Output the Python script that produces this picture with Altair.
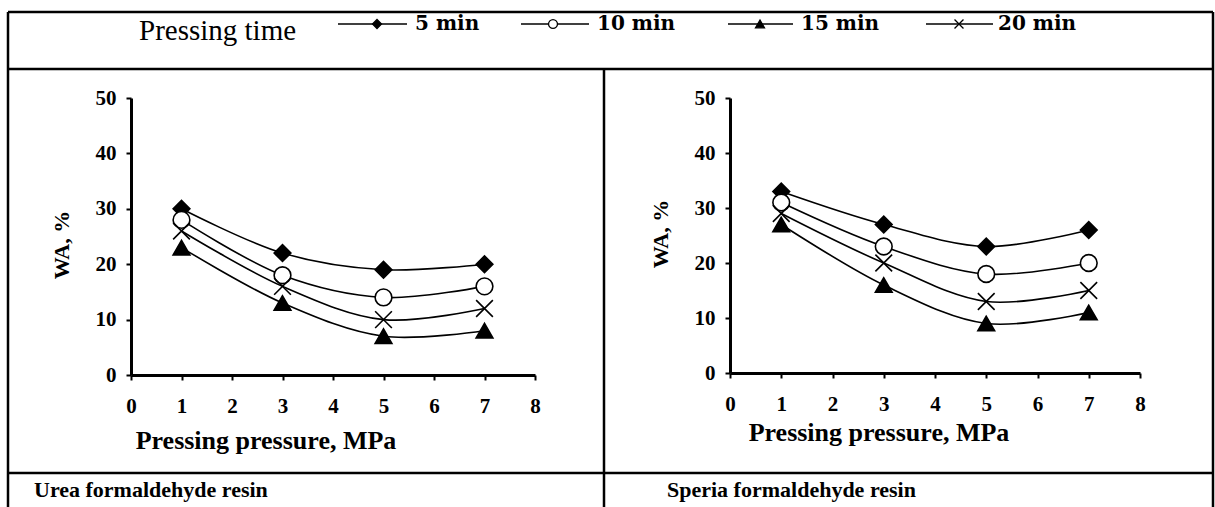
import altair as alt
import pandas as pd

# Pressing pressure (MPa) and water absorption (WA, %) per pressing time
pressure = [1, 3, 5, 7]
times = ["5 min", "10 min", "15 min", "20 min"]

uf_5 = [30, 22, 19, 20]
uf_10 = [28, 18, 14, 16]
uf_15 = [23, 13, 7, 8]
uf_20 = [26, 16, 10, 12]

sf_5 = [33, 27, 23, 26]
sf_10 = [31, 23, 18, 20]
sf_15 = [27, 16, 9, 11]
sf_20 = [29, 20, 13, 15]

x_ticks = [0, 1, 2, 3, 4, 5, 6, 7, 8]
y_ticks = [0, 10, 20, 30, 40, 50]


def long_table(series):
    rows = []
    for t, vals in zip(times, series):
        for p, v in zip(pressure, vals):
            rows.append({"pressure": p, "wa": v, "time": t})
    return pd.DataFrame(rows)


uf = long_table([uf_5, uf_10, uf_15, uf_20])
sf = long_table([sf_5, sf_10, sf_15, sf_20])

W, H = 1215, 507
SERIF = "'Liberation Serif', 'Times New Roman', Times, serif"
WIDE_SERIF = "'DejaVu Serif', serif"
X_PATH = "M-1,-1L1,1M-1,1L1,-1"

shape_scale = alt.Scale(domain=times, range=["diamond", "circle", "triangle-up", X_PATH])
fill_scale = alt.Scale(domain=times, range=["black", "white", "black", "transparent"])


def panel(df, x_range, y_range):
    x_axis = alt.Axis(
        values=x_ticks, orient="bottom", offset=y_range[0] - H, title=None,
        grid=False, domainWidth=3, domainColor="black", tickColor="black",
        tickWidth=2, tickSize=5, labelFont=SERIF, labelFontWeight="bold",
        labelFontSize=21, labelColor="black", labelPadding=15, labelFlush=False,
    )
    y_axis = alt.Axis(
        values=y_ticks, orient="left", offset=-x_range[0], title=None,
        grid=False, domainWidth=3, domainColor="black", tickColor="black",
        tickWidth=2, tickSize=5, labelFont=SERIF, labelFontWeight="bold",
        labelFontSize=21, labelColor="black", labelPadding=10, labelFlush=False,
    )
    x = alt.X("pressure:Q", scale=alt.Scale(domain=[0, 8], range=x_range, nice=False), axis=x_axis)
    y = alt.Y("wa:Q", scale=alt.Scale(domain=[0, 50], range=y_range, nice=False, zero=False), axis=y_axis)
    lines = alt.Chart(df).mark_line(
        interpolate="catmull-rom", color="black", strokeWidth=1.6
    ).encode(x=x, y=y, detail="time:N")
    points = alt.Chart(df).mark_point(
        size=280, stroke="black", strokeWidth=1.6, opacity=1, fillOpacity=1
    ).encode(
        x=x, y=y,
        shape=alt.Shape("time:N", scale=shape_scale, legend=None),
        fill=alt.Fill("time:N", scale=fill_scale, legend=None),
    )
    return alt.layer(lines, points)


left = panel(uf, [131, 535], [375, 98])
right = panel(sf, [730, 1140], [373, 98])

# Table frame
frame = []
BW = 2.5
for x1, x2, y1, y2 in [
    (8, 1213, 12, 12), (8, 1213, 69, 69), (8, 1213, 473, 473),
    (8, 8, 12, 507), (1213, 1213, 12, 507), (604, 604, 69, 507),
]:
    frame.append(
        alt.Chart().mark_rule(color="black", strokeWidth=BW).encode(
            x=alt.value(x1), x2=alt.value(x2), y=alt.value(y1), y2=alt.value(y2)
        )
    )


def label(text, x, y, size, weight="normal", angle=0, align="center", font=SERIF):
    return alt.Chart().mark_text(
        text=text, font=font, fontSize=size, fontWeight=weight, angle=angle,
        align=align, baseline="middle", color="black",
    ).encode(x=alt.value(x), y=alt.value(y))


texts = [
    label("Pressing time", 139, 31, 29, align="left"),
    label("Pressing pressure, MPa", 266, 441, 26, "bold"),
    label("Pressing pressure, MPa", 879, 433, 26, "bold"),
    label("WA, %", 62, 245, 22, "bold", angle=270),
    label("WA, %", 661, 234, 22, "bold", angle=270),
    label("Urea formaldehyde resin", 34, 490, 22, "bold", align="left"),
    label("Speria formaldehyde resin", 667, 490, 22, "bold", align="left"),
]

# Legend key: line segment, marker and label for each pressing time
legend_line = [(338, 407), (521, 589), (728, 793), (926, 993)]
legend_mark = [377, 553, 760, 959]
legend_text = [415, 597, 801, 998]
legend_shape = ["diamond", "circle", "triangle-up", X_PATH]
legend_fill = ["black", "white", "black", "transparent"]
legend = []
for i, t in enumerate(times):
    legend.append(
        alt.Chart().mark_rule(color="black", strokeWidth=1.5).encode(
            x=alt.value(legend_line[i][0]), x2=alt.value(legend_line[i][1]),
            y=alt.value(24), y2=alt.value(24),
        )
    )
    legend.append(
        alt.Chart().mark_point(
            shape=legend_shape[i], size=80, fill=legend_fill[i], stroke="black",
            strokeWidth=1.3, opacity=1, fillOpacity=1,
        ).encode(x=alt.value(legend_mark[i]), y=alt.value(24))
    )
    legend.append(label(t, legend_text[i], 24, 20, "bold", align="left", font=WIDE_SERIF))

chart = alt.layer(
    *frame, left, right, *texts, *legend
).resolve_scale(
    x="independent", y="independent"
).resolve_axis(
    x="independent", y="independent"
).properties(
    width=W, height=H, padding=0,
    autosize=alt.AutoSizeParams(type="none"),
    background="white",
).configure_view(stroke=None)

chart.save("out.html", embed_options={"renderer": "svg", "actions": False})
